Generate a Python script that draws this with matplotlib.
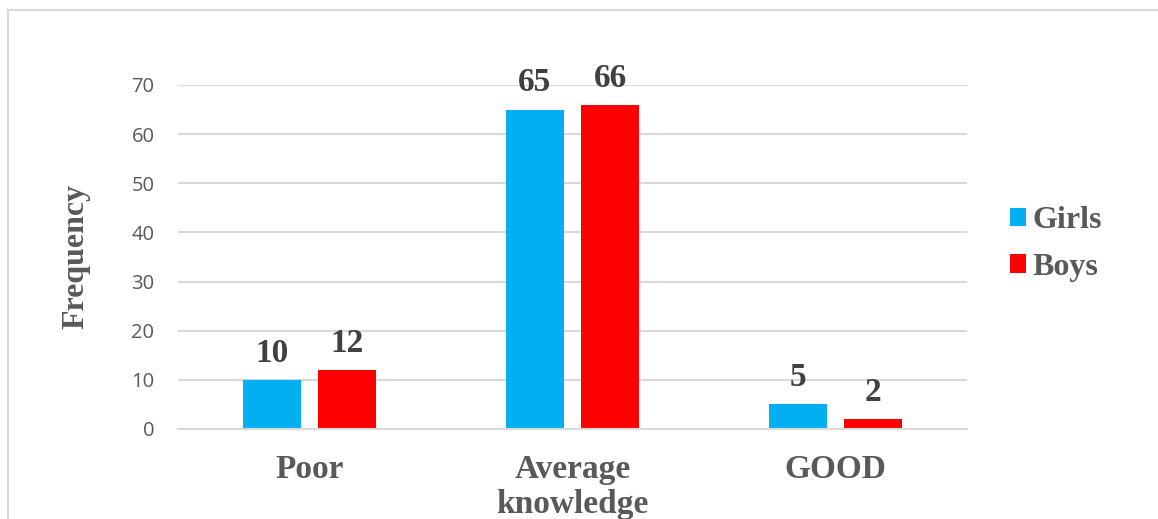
import matplotlib
matplotlib.use("Agg")
import matplotlib.pyplot as plt
from matplotlib.lines import Line2D
import numpy as np

categories = ["Poor", "Average\nknowledge", "GOOD"]
girls = [10, 65, 5]
boys = [12, 66, 2]
series_names = ["Girls", "Boys"]
y_ticks = [0, 10, 20, 30, 40, 50, 60, 70]

W, H = 1158, 519
fig = plt.figure(figsize=(W / 100, H / 100), dpi=100)
fig.patch.set_facecolor("white")

# outer chart frame (top and left edges only)
frame_col = "#d9d9d9"
fig.add_artist(Line2D([8 / W, 1.0], [1 - 10 / H, 1 - 10 / H], transform=fig.transFigure,
                      color=frame_col, lw=1.5))
fig.add_artist(Line2D([8 / W, 8 / W], [0, 1 - 10 / H], transform=fig.transFigure,
                      color=frame_col, lw=1.5))

ax = fig.add_axes([178 / W, 1 - 429 / H, (967 - 178) / W, (429 - 85) / H])
x = np.arange(len(categories))
bw = 0.22
off = 0.143
blue, red = "#00B0F0", "#FF0000"
b1 = ax.bar(x - off, girls, bw, color=blue, label=series_names[0], zorder=3)
b2 = ax.bar(x + off, boys, bw, color=red, label=series_names[1], zorder=3)

serif = "Liberation Serif"
for bars, vals in ((b1, girls), (b2, boys)):
    for rect, v in zip(bars, vals):
        ax.annotate(str(v), (rect.get_x() + rect.get_width() / 2, v),
                    xytext=(0, 8), textcoords="offset points", ha="center", va="bottom",
                    fontsize=24, fontweight="bold", family=serif, color="#404040")

ax.set_xlim(-0.5, 2.5)
ax.set_ylim(0, 70)
ax.set_yticks(y_ticks)
ax.set_yticklabels([str(t) for t in y_ticks], family="Open Sans", fontsize=14.5, color="#595959")
ax.set_xticks(x)
ax.set_xticklabels(categories, family=serif, fontweight="bold", fontsize=24,
                   color="#595959", linespacing=1.15)
ax.tick_params(axis="both", length=0)
ax.tick_params(axis="y", pad=17)
ax.tick_params(axis="x", pad=18)

ax.yaxis.grid(True, color=frame_col, lw=1.5, zorder=0)
for s in ("top", "right", "left"):
    ax.spines[s].set_visible(False)
ax.spines["bottom"].set_color(frame_col)
ax.spines["bottom"].set_linewidth(1.5)
ax.spines["bottom"].set_zorder(4)

fig.text(76 / W, 1 - 256 / H, "Frequency", rotation=90, ha="center", va="center",
         family=serif, fontweight="bold", fontsize=23, color="#595959")

leg = fig.legend(handles=[b1, b2], labels=series_names, loc="center left",
                 bbox_to_anchor=(1010 / W, 1 - 244 / H), frameon=False, borderpad=0,
                 borderaxespad=0,
                 prop={"family": serif, "weight": "bold", "size": 23},
                 handlelength=0.5, handleheight=0.5, handletextpad=0.2, labelspacing=0.55)
for t in leg.get_texts():
    t.set_color("#595959")

fig.savefig("out.png", dpi=100, facecolor="white")
